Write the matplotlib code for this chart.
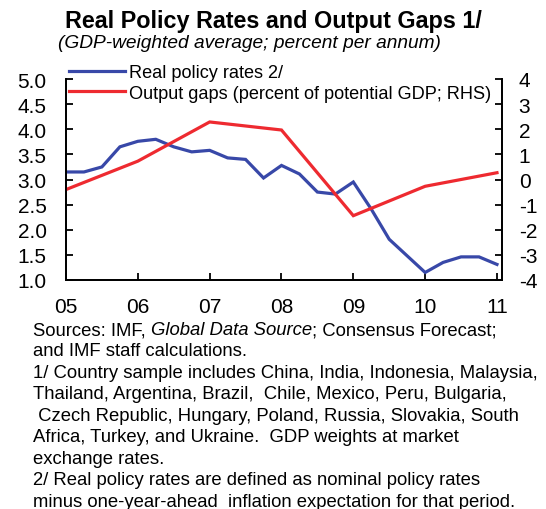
import numpy as np
import matplotlib
matplotlib.use('Agg')
import matplotlib.pyplot as plt

#----------------------------------------------------------
W, H = 546, 510
plt.rcParams['font.family'] = ['Liberation Sans', 'DejaVu Sans']
plt.rcParams['axes.unicode_minus'] = False

year_lbl = ['05', '06', '07', '08', '09', '10', '11']

# quarterly real policy rates (LHS)
rate = [3.15, 3.15, 3.25, 3.65, 3.76, 3.80, 3.65, 3.55, 3.58, 3.43, 3.40, 3.03,
        3.28, 3.11, 2.75, 2.71, 2.95, 2.41, 1.81, 1.48, 1.15, 1.35, 1.46, 1.46, 1.31]
# annual output gaps (RHS)
gap = [-0.40, 0.73, 2.29, 1.97, -1.44, -0.27, 0.27]

c_blue = '#3848a8'
c_red = '#ee2a30'

title = 'Real Policy Rates and Output Gaps 1/'
subtitle = '(GDP-weighted average; percent per annum)'
lbl_rate = 'Real policy rates 2/'
lbl_gap = 'Output gaps (percent of potential GDP; RHS)'
notes = ['and IMF staff calculations.',
         '1/ Country sample includes China, India, Indonesia, Malaysia,',
         'Thailand, Argentina, Brazil,  Chile, Mexico, Peru, Bulgaria,',
         ' Czech Republic, Hungary, Poland, Russia, Slovakia, South',
         'Africa, Turkey, and Ukraine.  GDP weights at market',
         'exchange rates.',
         '2/ Real policy rates are defined as nominal policy rates',
         'minus one-year-ahead  inflation expectation for that period.']

#----------------------------------------------------------
def fx(px):
	return px / W

def fy(py):
	return 1 - py / H

fig = plt.figure(figsize=(W / 100, H / 100), dpi=100)
ax = fig.add_axes([fx(66), fy(281), fx(502) - fx(66), fy(80) - fy(281)])
ax2 = ax.twinx()

x_q = np.arange(len(rate)) / 4
x_y = np.arange(len(gap))
l1, = ax.plot(x_q, rate, color=c_blue, lw=2.3, solid_joinstyle='miter', label=lbl_rate)
l2, = ax2.plot(x_y, gap, color=c_red, lw=2.3, solid_joinstyle='miter', label=lbl_gap)

ax.set_xlim(0, 6.07)
ax.set_ylim(1.0, 5.0)
ax2.set_ylim(-4, 4)
ax.set_xticks(x_y)
ax.set_xticklabels(year_lbl)
ax.set_yticks(np.arange(1.0, 5.01, 0.5))
ax.set_yticklabels([f'{v:.1f}' for v in np.arange(1.0, 5.01, 0.5)])
ax2.set_yticks(np.arange(-4, 5, 1))

for a in (ax, ax2):
	a.spines['top'].set_visible(False)
	for s in ('left', 'right', 'bottom'):
		a.spines[s].set_linewidth(1.3)
ax.tick_params(axis='y', direction='in', length=5, width=1.3, pad=14, labelsize=15)
ax.tick_params(axis='x', direction='in', length=5, width=1.3, pad=12, labelsize=15)
ax2.tick_params(axis='y', direction='in', length=5, width=1.3, pad=12, labelsize=15)

leg = ax2.legend(handles=[l1, l2], loc='upper left', bbox_to_anchor=(fx(69), fy(65)),
                 bbox_transform=fig.transFigure, frameon=False, fontsize=13.1,
                 handlelength=3.1, handletextpad=0.2, labelspacing=0.2,
                 borderpad=0, borderaxespad=0)

#titles
fig.text(fx(65), fy(28), title, fontsize=16.8, weight='bold', va='baseline', ha='left')
fig.text(fx(58), fy(48), subtitle, fontsize=13.8, style='italic', va='baseline', ha='left')

#footnotes
fs = 13.3
t0 = fig.text(fx(33), fy(335), 'Sources: IMF, ', fontsize=fs, va='baseline')
t1 = ax.annotate('Global Data Source', xy=(1, 0), xycoords=t0, fontsize=fs,
                 style='italic', va='bottom', ha='left', annotation_clip=False)
ax.annotate('; Consensus Forecast;', xy=(1, 0), xycoords=t1, fontsize=fs,
            va='bottom', ha='left', annotation_clip=False)
for i, s in enumerate(notes):
	fig.text(fx(33), fy(335 + 21.5 * (i + 1)), s, fontsize=fs, va='baseline')

plt.savefig('out.png', dpi=100)
plt.close()
